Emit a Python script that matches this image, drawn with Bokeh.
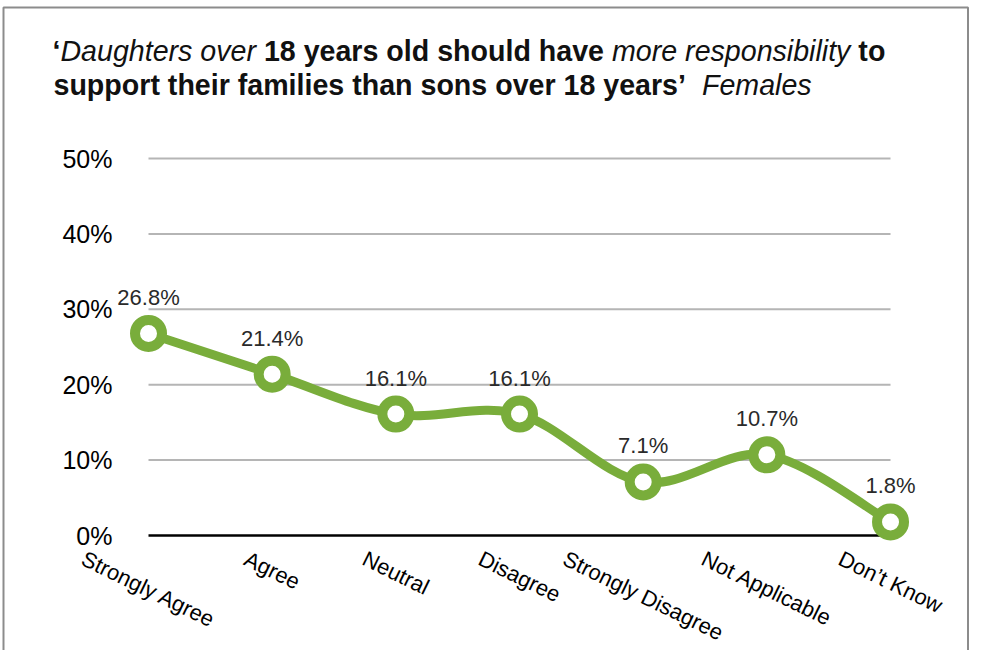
import math
from bokeh.plotting import figure
from bokeh.models import ColumnDataSource, Range1d
from bokeh.core.properties import value
from bokeh.embed import file_html
from bokeh.resources import INLINE

# ---------------- data ----------------
categories = ["Strongly Agree", "Agree", "Neutral", "Disagree",
              "Strongly Disagree", "Not Applicable", "Don\u2019t Know"]
values = [26.8, 21.4, 16.1, 16.1, 7.1, 10.7, 1.8]
value_labels = ["26.8%", "21.4%", "16.1%", "16.1%", "7.1%", "10.7%", "1.8%"]
y_ticks = [0, 10, 20, 30, 40, 50]
y_tick_labels = ["0%", "10%", "20%", "30%", "40%", "50%"]

title_line1 = [("\u2018", "bold"), ("Daughters over", "italic"), (" ", "bold"),
               ("18 years old should have", "bold"), (" ", "bold"),
               ("more responsibility", "italic"), (" ", "bold"), ("to", "bold")]
title_line2 = [("support their families than sons over 18 years\u2019", "bold"),
               ("  ", "italic"), ("Females", "italic")]

# ---------------- layout ----------------
W, H = 969, 650
X0_PX = 148.0        # canvas x of first category
X_STEP = 123.67      # px per category
Y0_PX = 535.0        # canvas y of 0%
Y_PX = 7.54          # px per percent

GREEN = "#79ad3b"
FONT = "Liberation Sans"

x_range = Range1d(-X0_PX / X_STEP, (W - X0_PX) / X_STEP)
y_range = Range1d(-(H - Y0_PX) / Y_PX, Y0_PX / Y_PX)


def cx(px):
    return (px - X0_PX) / X_STEP


def cy(py):
    return (Y0_PX - py) / Y_PX


p = figure(width=W, height=H, x_range=x_range, y_range=y_range,
           output_backend="svg", toolbar_location=None,
           x_axis_location=None, y_axis_location=None, min_border=0)
p.grid.visible = False
p.outline_line_color = None
p.background_fill_color = "white"
p.border_fill_color = "white"

n = len(categories)
idx = list(range(n))

# border (top, left, right)
p.line(x=[cx(3), cx(3), cx(W - 1.5), cx(W - 1.5)], y=[cy(H + 5), cy(7), cy(7), cy(H + 5)],
       line_color="#8c8c8c", line_width=2)

# gridlines
grid_y = [t for t in y_ticks if t != 0]
p.segment(x0=[0] * len(grid_y), x1=[n - 1] * len(grid_y), y0=grid_y, y1=grid_y,
          line_color="#b5b5b5", line_width=2)
# zero line
p.segment(x0=[0], x1=[n - 1], y0=[0], y1=[0], line_color="black", line_width=2.5)

# smoothed line (Catmull-Rom -> cubic Bezier)
seg = dict(x0=[], y0=[], x1=[], y1=[], cx0=[], cy0=[], cx1=[], cy1=[])
for i in range(n - 1):
    xm, ym = idx[max(i - 1, 0)], values[max(i - 1, 0)]
    xa, ya = idx[i], values[i]
    xb, yb = idx[i + 1], values[i + 1]
    xp, yp = idx[min(i + 2, n - 1)], values[min(i + 2, n - 1)]
    seg["x0"].append(xa); seg["y0"].append(ya)
    seg["x1"].append(xb); seg["y1"].append(yb)
    seg["cx0"].append(xa + (xb - xm) / 6.0); seg["cy0"].append(ya + (yb - ym) / 6.0)
    seg["cx1"].append(xb - (xp - xa) / 6.0); seg["cy1"].append(yb - (yp - ya) / 6.0)
p.bezier(source=ColumnDataSource(seg), x0="x0", y0="y0", x1="x1", y1="y1",
         cx0="cx0", cy0="cy0", cx1="cx1", cy1="cy1",
         line_color=GREEN, line_width=9)

# markers
src = ColumnDataSource(dict(x=idx, y=values, lab=value_labels))
p.scatter(x="x", y="y", source=src, size=27, fill_color="white",
          line_color=GREEN, line_width=10)

# data labels
p.text(x="x", y="y", text="lab", source=src, y_offset=-36,
       text_align="center", text_baseline="middle",
       text_font=value(FONT), text_font_size="22px", text_color="#2a2a2a")

# y tick labels
p.text(x=[0] * len(y_ticks), y=y_ticks, text=y_tick_labels, x_offset=-36,
       text_align="right", text_baseline="middle",
       text_font=value(FONT), text_font_size="25px", text_color="#000000")

# category labels (rotated, centred below tick)
REG = {' ': 278, 'A': 667, 'D': 722, 'F': 611, 'K': 667, 'N': 722, 'S': 667,
       'a': 556, 'b': 556, 'c': 500, 'd': 556, 'e': 556, 'g': 556, 'h': 556,
       'i': 222, 'l': 222, 'm': 833, 'n': 556, 'o': 556, 'p': 556, 'r': 333,
       's': 500, 't': 278, 'u': 556, 'v': 500, 'w': 722, 'y': 500, '\u2019': 222}
BOLD = {' ': 278, '\u2018': 278, '\u2019': 278, '1': 556, '8': 556,
        'a': 556, 'b': 611, 'c': 556, 'd': 611, 'e': 556, 'f': 333, 'g': 611,
        'h': 611, 'i': 278, 'l': 278, 'm': 889, 'n': 611, 'o': 611, 'p': 611,
        'r': 389, 's': 556, 't': 333, 'u': 611, 'v': 556, 'y': 556, 'w': 778}


def text_width(s, table, fs):
    return sum(table.get(ch, 556) for ch in s) / 1000.0 * fs


CAT_FS = 22
THETA = math.radians(26)
cat_off = []
for c in categories:
    w = text_width(c, REG, CAT_FS)
    h = 1.0 * CAT_FS
    cat_off.append(12 + (w / 2) * math.sin(THETA) + (h / 2) * math.cos(THETA))
p.text(x=idx, y=[0] * n, text=categories, y_offset=cat_off, angle=-THETA,
       text_align="center", text_baseline="middle",
       text_font=value(FONT), text_font_size=f"{CAT_FS}px", text_color="black")

# title (mixed bold / italic segments, chained)
TITLE_FS = 28.6
for segs, start, base in ((title_line1, 52, 50), (title_line2, 53, 84)):
    px = start
    for txt, style in segs:
        if txt.strip():
            p.text(x=[cx(px)], y=[cy(base)], text=[txt],
                   text_align="left", text_baseline="alphabetic",
                   text_font=value(FONT), text_font_size=f"{TITLE_FS}px",
                   text_font_style=style, text_color="#111111")
        px += text_width(txt, BOLD if style == "bold" else REG, TITLE_FS)

open("out.html", "w").write(file_html(p, INLINE))
